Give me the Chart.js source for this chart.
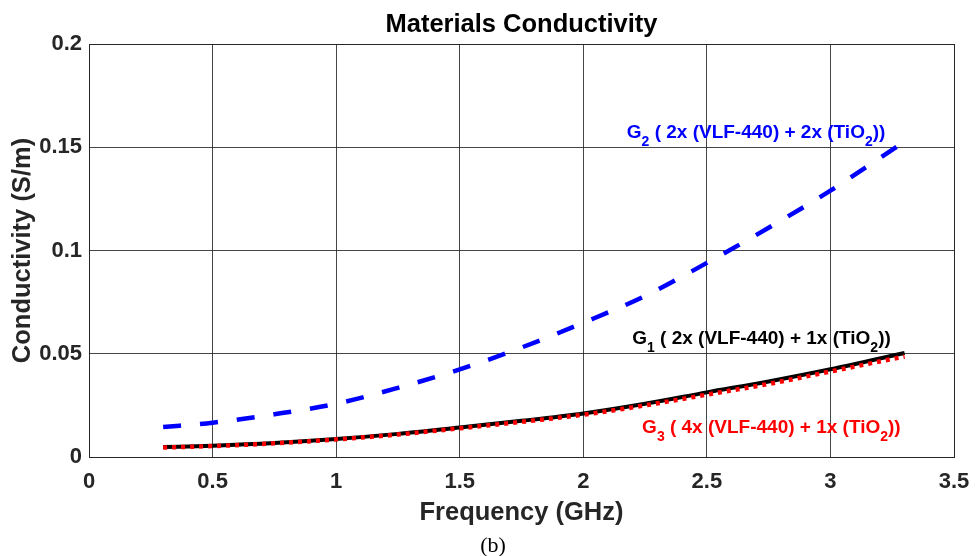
<!DOCTYPE html>
<html>
<head>
<meta charset="utf-8">
<script src="https://cdn.jsdelivr.net/npm/chart.js@4/dist/chart.umd.min.js"></script>
<style>
html,body{margin:0;padding:0;background:#fff;}
#wrap{width:977px;height:556px;position:relative;}
</style>
</head>
<body>
<div id="wrap"><canvas id="c" width="977" height="556"></canvas></div>
<script>
// Frequency (GHz)
const freq = [0.3, 0.5, 0.75, 1.0, 1.25, 1.5, 1.75, 2.0, 2.25, 2.5, 2.75, 3.0, 3.3];
// Conductivity (S/m)
const g1 = [0.0048, 0.0055, 0.0068, 0.0087, 0.0112, 0.0143, 0.0175, 0.0211, 0.0258, 0.0313, 0.0366, 0.0425, 0.0504];
const g2 = [0.0145, 0.0166, 0.0207, 0.0258, 0.0335, 0.0424, 0.0530, 0.0650, 0.0780, 0.0940, 0.1110, 0.1290, 0.1528];
const g3 = [0.0046, 0.0053, 0.0066, 0.0085, 0.0109, 0.0139, 0.0170, 0.0205, 0.0250, 0.0302, 0.0354, 0.0414, 0.0487];
const xTicks = [0, 0.5, 1, 1.5, 2, 2.5, 3, 3.5];
const yTicks = [0, 0.05, 0.1, 0.15, 0.2];
const xTickLabels = ['0', '0.5', '1', '1.5', '2', '2.5', '3', '3.5'];
const yTickLabels = ['0', '0.05', '0.1', '0.15', '0.2'];

const pts = (ys) => freq.map((f, i) => ({x: f, y: ys[i]}));

const SANS = '"Liberation Sans", Arial, sans-serif';

const textPlugin = {
  id: 'texts',
  afterDraw(chart) {
    const ctx = chart.ctx;
    const a = chart.chartArea;
    const xs = chart.scales.x, ys = chart.scales.y;
    ctx.save();
    // box
    ctx.strokeStyle = '#262626';
    ctx.lineWidth = 1;
    ctx.strokeRect(Math.round(a.left) + 0.5, Math.round(a.top) + 0.5, Math.round(a.right - a.left), Math.round(a.bottom - a.top));
    // title
    ctx.fillStyle = '#000';
    ctx.font = 'bold 25.5px ' + SANS;
    ctx.textAlign = 'center';
    ctx.textBaseline = 'alphabetic';
    ctx.fillText('Materials Conductivity', (a.left + a.right) / 2, 32);
    // x title
    ctx.fillStyle = '#262626';
    ctx.font = 'bold 25.5px ' + SANS;
    ctx.fillText('Frequency (GHz)', (a.left + a.right) / 2, 520);
    // y title
    ctx.save();
    ctx.translate(30, (a.top + a.bottom) / 2);
    ctx.rotate(-Math.PI / 2);
    ctx.fillText('Conductivity (S/m)', 0, 0);
    ctx.restore();
    // (b)
    ctx.fillStyle = '#000';
    ctx.font = '22px "Liberation Serif", "Times New Roman", serif';
    ctx.fillText('(b)', 493, 552);

    // annotations with subscripts
    function label(parts, x, y, color) {
      ctx.fillStyle = color;
      ctx.textAlign = 'left';
      let px = x;
      for (const p of parts) {
        ctx.font = p.sub ? 'bold 14px ' + SANS : 'bold 19px ' + SANS;
        ctx.fillText(p.t, px, p.sub ? y + 8 : y);
        px += ctx.measureText(p.t).width;
      }
    }
    label([{t:'G'},{t:'2',sub:true},{t:' ( 2x (VLF-440) + 2x (TiO'},{t:'2',sub:true},{t:'))'}],
      xs.getPixelForValue(2.176), ys.getPixelForValue(0.1546), '#0000ff');
    label([{t:'G'},{t:'1',sub:true},{t:' ( 2x (VLF-440) + 1x (TiO'},{t:'2',sub:true},{t:'))'}],
      xs.getPixelForValue(2.198), ys.getPixelForValue(0.0549), '#000000');
    label([{t:'G'},{t:'3',sub:true},{t:' ( 4x (VLF-440) + 1x (TiO'},{t:'2',sub:true},{t:'))'}],
      xs.getPixelForValue(2.238), ys.getPixelForValue(0.0117), '#ff0000');
    ctx.restore();
  }
};

new Chart(document.getElementById('c'), {
  type: 'line',
  data: {
    datasets: [
      {label: 'G3', data: pts(g3), borderColor: '#ff0000', borderWidth: 4.5, borderDash: [4, 5], borderCapStyle: 'butt', pointRadius: 0, cubicInterpolationMode: 'monotone', order: 0},
      {label: 'G1', data: pts(g1), borderColor: '#000000', borderWidth: 4, pointRadius: 0, cubicInterpolationMode: 'monotone', order: 1},
      {label: 'G2', data: pts(g2), borderColor: '#0000ff', borderWidth: 4.5, borderDash: [18, 19], borderCapStyle: 'butt', pointRadius: 0, cubicInterpolationMode: 'monotone', order: 2}
    ]
  },
  options: {
    responsive: false,
    animation: false,
    devicePixelRatio: 1,
    layout: {padding: {left: 0, right: 23, top: 44, bottom: 59}},
    plugins: {legend: {display: false}, title: {display: false}, tooltip: {enabled: false}},
    scales: {
      x: {
        type: 'linear', min: 0, max: 3.5,
        afterBuildTicks: (s) => { s.ticks = xTicks.map(v => ({value: v})); },
        afterFit: (s) => { s.height = 40; s.paddingLeft = 0; s.paddingRight = 0; },
        ticks: {
          callback: (v) => { const i = xTicks.indexOf(v); return i >= 0 ? xTickLabels[i] : ''; },
          font: {family: SANS, size: 22, weight: 'bold'}, color: '#262626', padding: 12, maxRotation: 0, autoSkip: false
        },
        grid: {color: 'rgba(38,38,38,0.85)', lineWidth: 1, drawTicks: false},
        border: {color: '#262626', width: 1}
      },
      y: {
        type: 'linear', min: 0, max: 0.2,
        afterBuildTicks: (s) => { s.ticks = yTicks.map(v => ({value: v})); },
        afterFit: (s) => { s.width = 89; s.paddingTop = 0; s.paddingBottom = 0; },
        ticks: {
          callback: (v) => { const i = yTicks.findIndex(t => Math.abs(t - v) < 1e-9); return i >= 0 ? yTickLabels[i] : ''; },
          font: {family: SANS, size: 22, weight: 'bold'}, color: '#262626', padding: 7, autoSkip: false
        },
        grid: {color: 'rgba(38,38,38,0.85)', lineWidth: 1, drawTicks: false},
        border: {color: '#262626', width: 1}
      }
    }
  },
  plugins: [textPlugin]
});
</script>
</body>
</html>
